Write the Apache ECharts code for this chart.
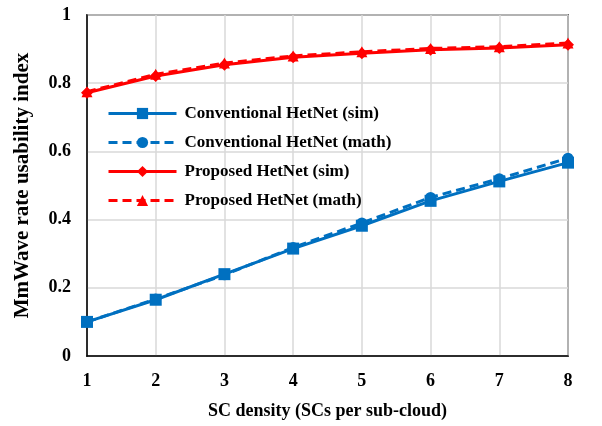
<!DOCTYPE html>
<html><head><meta charset="utf-8">
<script src="https://cdn.jsdelivr.net/npm/echarts@6/dist/echarts.min.js"></script>
<style>html,body{margin:0;padding:0;background:#fff}#c{width:602px;height:426px}</style>
</head><body><div id="c"></div>
<script>
var xValues = [1, 2, 3, 4, 5, 6, 7, 8];
var convSim = [0.100, 0.165, 0.240, 0.315, 0.382, 0.455, 0.512, 0.567];
var convMath = [0.100, 0.167, 0.238, 0.318, 0.390, 0.465, 0.520, 0.580];
var propSim = [0.772, 0.821, 0.854, 0.876, 0.888, 0.898, 0.903, 0.913];
var propMath = [0.775, 0.826, 0.859, 0.880, 0.892, 0.902, 0.907, 0.918];
var seriesNames = ['Conventional HetNet (sim)', 'Conventional HetNet (math)', 'Proposed HetNet (sim)', 'Proposed HetNet (math)'];

function pairs(ys){ return xValues.map(function(x,i){ return [x, ys[i]]; }); }
var font = '"Liberation Serif", "Times New Roman", serif';
var chart = echarts.init(document.getElementById('c'));
function mk(name, data, color, dashed, symbol, size){
  return {
    name: name, type: 'line', data: pairs(data),
    symbol: symbol, symbolSize: size,
    lineStyle: {color: color, width: 3, type: dashed ? [9, 5] : 'solid'},
    itemStyle: {color: color},
    z: dashed ? 3 : 2
  };
}
chart.setOption({
  animation: false,
  grid: {left: 87, right: 34, top: 15, bottom: 70, show: true, borderColor: '#000', borderWidth: 1.5},
  legend: {
    orient: 'vertical', left: 102, top: 100,
    itemWidth: 68, itemHeight: 14, itemGap: 12, padding: [5, 5, 5, 5],
    lineStyle: {width: 3},
    data: seriesNames,
    textStyle: {fontFamily: font, fontWeight: 'bold', fontSize: 17, color: '#000', padding: [0, 0, 0, 3]}
  },
  xAxis: {
    type: 'value', min: 1, max: 8, interval: 1,
    name: 'SC density (SCs per sub-cloud)', nameLocation: 'middle', nameGap: 46,
    nameTextStyle: {fontFamily: font, fontWeight: 'bold', fontSize: 18, color: '#000'},
    axisLine: {lineStyle: {color: '#000', width: 1.5}},
    axisTick: {show: false},
    axisLabel: {fontFamily: font, fontWeight: 'bold', fontSize: 18, color: '#000', margin: 16},
    splitLine: {show: true, lineStyle: {color: '#d9d9d9', width: 1.5}}
  },
  yAxis: {
    type: 'value', min: 0, max: 1, interval: 0.2,
    name: 'MmWave rate usability index', nameLocation: 'middle', nameGap: 54,
    nameTextStyle: {fontFamily: font, fontWeight: 'bold', fontSize: 21, color: '#000'},
    axisLine: {show: true, lineStyle: {color: '#000', width: 1.5}},
    axisTick: {show: false},
    axisLabel: {fontFamily: font, fontWeight: 'bold', fontSize: 18, color: '#000', margin: 16},
    splitLine: {show: true, lineStyle: {color: '#d9d9d9', width: 1.5}}
  },
  series: [
    mk(seriesNames[0], convSim, '#0070C0', false, 'rect', 12),
    mk(seriesNames[1], convMath, '#0070C0', true, 'circle', 11),
    mk(seriesNames[2], propSim, '#FF0000', false, 'diamond', 12),
    mk(seriesNames[3], propMath, '#FF0000', true, 'triangle', 11)
  ]
});
</script></body></html>
